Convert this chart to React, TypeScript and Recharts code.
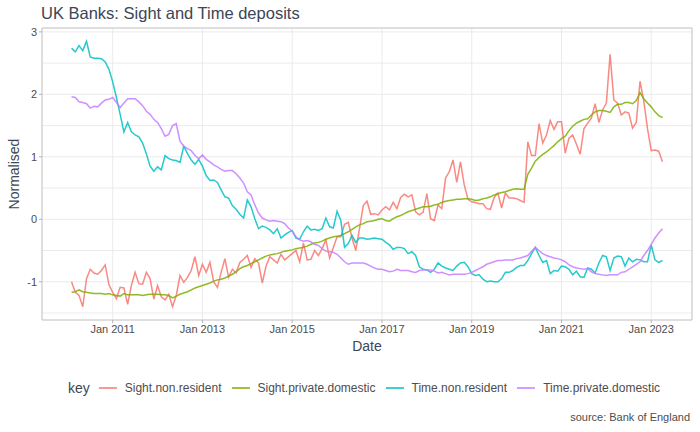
import { LineChart, Line, XAxis, YAxis, CartesianGrid, ReferenceArea } from "recharts";

// monthly observations, Feb 2010 .. Apr 2023
const START_YEAR = 2010;
const START_MONTH = 1; // 0 = Jan

const sightNonResident = [
  -1.0, -1.17, -1.22, -1.4, -0.95, -0.8, -0.86, -0.88, -0.82, -0.73, -1.05, -1.17,
  -1.27, -1.09, -1.1, -1.36, -1.06, -0.85, -1.03, -1.04, -0.85, -0.95, -1.28, -1.06,
  -1.24, -1.29, -1.2, -1.4, -1.22, -0.9, -1.01, -0.93, -0.82, -0.6, -0.9, -0.72,
  -0.85, -0.69, -1.0, -1.09, -0.85, -0.63, -0.93, -0.8, -0.86, -0.69, -0.64, -0.58,
  -0.77, -0.63, -0.7, -1.02, -0.75, -0.6, -0.65, -0.7, -0.56, -0.65, -0.6, -0.55,
  -0.5, -0.68, -0.38, -0.65, -0.64, -0.5, -0.58, -0.47, -0.33, -0.62, -0.45, -0.28,
  -0.28, -0.08, -0.05, -0.3, -0.5, -0.15, 0.22, 0.29, 0.08, 0.09, 0.07, 0.15,
  0.2, 0.15, 0.27, 0.17, 0.35, 0.4, 0.36, 0.39, 0.12, 0.07, 0.11, 0.41,
  0.01, -0.02, 0.23, 0.17, 0.66, 0.76, 0.95, 0.59, 0.92, 0.55, 0.32, 0.28,
  0.27, 0.25, 0.25, 0.17, 0.16, 0.35, 0.42, 0.18, 0.42, 0.34, 0.34, 0.33,
  0.3, 0.27, 1.24, 1.02, 1.02, 1.53, 1.22, 1.35, 1.58, 1.44, 1.56, 1.56,
  1.06, 1.3, 1.35, 1.2, 1.04, 1.45, 1.54, 1.62, 1.85, 1.55, 1.75, 1.86,
  2.64, 1.91, 1.86, 1.67, 1.72, 1.7, 1.46, 1.55, 2.21, 1.9, 1.45, 1.1,
  1.11, 1.09, 0.92,
];

const sightPrivateDomestic = [
  -1.17, -1.16, -1.13, -1.16, -1.17, -1.18, -1.19, -1.19, -1.19, -1.2, -1.19, -1.21,
  -1.22, -1.23, -1.19, -1.21, -1.21, -1.21, -1.21, -1.22, -1.21, -1.2, -1.2, -1.2,
  -1.21, -1.21, -1.22, -1.26, -1.23, -1.2, -1.18, -1.16, -1.13, -1.1, -1.08, -1.06,
  -1.04, -1.02, -0.99, -0.97, -0.96, -0.94, -0.91, -0.88, -0.84, -0.79, -0.76, -0.74,
  -0.71, -0.68, -0.65, -0.62, -0.59, -0.57, -0.56, -0.55, -0.53, -0.51, -0.5, -0.49,
  -0.47, -0.46, -0.45, -0.43, -0.4, -0.38, -0.37, -0.35, -0.32, -0.3, -0.28, -0.27,
  -0.26, -0.23, -0.2, -0.16, -0.12, -0.09, -0.07, -0.04, -0.03, -0.02, 0.0, 0.01,
  -0.02, -0.03, 0.01, 0.04, 0.06, 0.09, 0.12, 0.14, 0.16, 0.18, 0.2, 0.2,
  0.21, 0.23, 0.24, 0.27, 0.29, 0.3, 0.31, 0.32, 0.32, 0.33, 0.33, 0.32,
  0.3, 0.31, 0.33, 0.34, 0.36, 0.39, 0.41, 0.43, 0.44, 0.46, 0.48, 0.49,
  0.48, 0.48, 0.72, 0.82, 0.93, 0.99, 1.04, 1.08, 1.13, 1.18, 1.24, 1.29,
  1.33, 1.42, 1.49, 1.54, 1.57, 1.6, 1.61, 1.67, 1.72, 1.74, 1.74, 1.73,
  1.71, 1.8, 1.84, 1.84, 1.87, 1.87, 1.85, 1.9, 2.03, 1.93, 1.86, 1.8,
  1.72, 1.66, 1.63,
];

const timeNonResident = [
  2.74, 2.68, 2.78, 2.7, 2.85, 2.6, 2.58, 2.58, 2.57, 2.52, 2.4, 2.2,
  1.95, 1.68, 1.4, 1.55, 1.4, 1.35, 1.32, 1.22, 1.05, 0.85, 0.77, 0.84,
  0.79, 1.02, 0.97, 0.95, 0.94, 0.91, 1.17, 1.05, 0.95, 0.88, 0.96, 0.85,
  0.7, 0.62, 0.63, 0.59, 0.47, 0.36, 0.34, 0.22, 0.16, 0.08, 0.02, 0.31,
  0.2, 0.01, -0.15, -0.11, -0.13, -0.17, -0.23, -0.15, -0.3, -0.25, -0.21, -0.18,
  -0.3, -0.32, -0.2, -0.11, -0.17, -0.16, -0.18, -0.15, 0.02, -0.12, -0.14, 0.13,
  -0.02, -0.45, -0.39, -0.26, -0.37, -0.3, -0.3, -0.32, -0.31, -0.3, -0.31, -0.32,
  -0.37, -0.41, -0.48, -0.45, -0.45, -0.47, -0.55, -0.52, -0.58, -0.76, -0.8, -0.81,
  -0.85, -0.8, -0.7, -0.75, -0.78, -0.8, -0.82, -0.75, -0.7, -0.69, -0.76, -0.87,
  -0.9, -0.89, -0.96, -1.0, -0.99, -1.0, -1.0, -0.95, -0.85, -0.85, -0.82, -0.77,
  -0.74, -0.74, -0.66, -0.55, -0.45, -0.58, -0.69, -0.66, -0.87, -0.82, -0.83, -0.75,
  -0.76, -0.8, -0.89, -0.83, -0.92, -0.93, -0.78, -0.8, -0.86, -0.7, -0.58, -0.6,
  -0.82, -0.62, -0.59, -0.6, -0.75, -0.62, -0.68, -0.64, -0.65, -0.68, -0.68, -0.41,
  -0.65, -0.69, -0.66,
];

const timePrivateDomestic = [
  1.96, 1.95, 1.88, 1.87, 1.85, 1.78, 1.81, 1.8, 1.86, 1.91, 1.92, 1.95,
  1.87, 1.79, 1.86, 1.93, 1.93, 1.93, 1.88, 1.82, 1.73, 1.68, 1.6, 1.55,
  1.45, 1.33, 1.36, 1.5, 1.53, 1.25, 1.17, 1.13, 1.1, 1.02, 0.97, 1.03,
  0.96, 0.92, 0.87, 0.84, 0.8, 0.77, 0.78, 0.78, 0.73, 0.66, 0.58, 0.44,
  0.39, 0.23, 0.1, 0.02, -0.01, -0.03, -0.02, -0.03, -0.04, -0.07, -0.14, -0.19,
  -0.28, -0.33, -0.35, -0.34, -0.36, -0.4, -0.42, -0.47, -0.51, -0.52, -0.53, -0.56,
  -0.62, -0.68, -0.72, -0.7, -0.7, -0.7, -0.7, -0.72, -0.75, -0.78, -0.8, -0.8,
  -0.82, -0.84, -0.83, -0.8, -0.82, -0.82, -0.82, -0.84, -0.85, -0.82, -0.81, -0.81,
  -0.81, -0.83, -0.86, -0.85, -0.87, -0.89, -0.88, -0.88, -0.88, -0.88, -0.87, -0.85,
  -0.82, -0.79, -0.76, -0.72, -0.7, -0.68, -0.66, -0.66, -0.65, -0.65, -0.65, -0.63,
  -0.62, -0.6, -0.58, -0.51, -0.45, -0.5, -0.55, -0.58, -0.6, -0.62, -0.63, -0.65,
  -0.68, -0.73, -0.76, -0.78, -0.79, -0.8, -0.79, -0.84, -0.87, -0.88, -0.89, -0.9,
  -0.89, -0.89, -0.89, -0.85, -0.84, -0.8, -0.76, -0.72, -0.68, -0.58, -0.5, -0.4,
  -0.3, -0.22, -0.15,
];

const SERIES = [
  { key: "Sight.non.resident", values: sightNonResident, color: "#F8766D" },
  { key: "Sight.private.domestic", values: sightPrivateDomestic, color: "#7CAE00" },
  { key: "Time.non.resident", values: timeNonResident, color: "#00BFC4" },
  { key: "Time.private.domestic", values: timePrivateDomestic, color: "#C77CFF" },
];

const X_TICKS = [2011, 2013, 2015, 2017, 2019, 2021, 2023];
// major (labelled) + minor gridlines
const Y_TICKS = [-1.5, -1, -0.5, 0, 0.5, 1, 1.5, 2, 2.5, 3];

const FONT = '"Liberation Sans", Arial, Helvetica, sans-serif';
const TITLE_COL = "#3b4656";
const TEXT_COL = "#4d4d4d";
const TICK_SIZE = 3;
const TICK_MARGIN = 2;

const data = sightNonResident.map((_, i) => {
  const row: Record<string, number> = { t: START_YEAR + (START_MONTH + i) / 12 };
  SERIES.forEach((s) => (row[s.key] = s.values[i]));
  return row;
});

// ggplot style 5% expansion
function expand(lo: number, hi: number): [number, number] {
  const pad = (hi - lo) * 0.05;
  return [lo - pad, hi + pad];
}
const allVals = SERIES.flatMap((s) => s.values);
const yDomain = expand(Math.min(...allVals), Math.max(...allVals));
const xDomain = expand(data[0].t, data[data.length - 1].t);

// only label whole numbers; the half steps are minor gridlines
function YTick(props: any) {
  const { x, y, payload } = props;
  if (!Number.isInteger(payload.value)) return null;
  return (
    <g>
      <line x1={x + TICK_MARGIN} x2={x + TICK_MARGIN + TICK_SIZE} y1={y} y2={y} stroke="#b3b3b3" />
      <text x={x} y={y} dy="0.35em" textAnchor="end" fill={TEXT_COL} fontSize={11} fontFamily={FONT}>
        {payload.value}
      </text>
    </g>
  );
}

export default function App() {
  return (
    <div style={{ position: "relative", width: 700, height: 432, fontFamily: FONT, background: "#fff" }}>
      <style>{"body{margin:0}"}</style>
      <div style={{ position: "absolute", left: 41, top: 4, fontSize: 16.5, color: TITLE_COL }}>
        UK Banks: Sight and Time deposits
      </div>
      <LineChart
        width={700}
        height={432}
        data={data}
        margin={{ top: 28, right: 8, bottom: 82, left: 12 }}
      >
        <CartesianGrid stroke="#e6e6e6" strokeWidth={0.8} />
        <XAxis
          type="number"
          dataKey="t"
          domain={xDomain}
          ticks={X_TICKS}
          allowDataOverflow
          tickFormatter={(v: number) => `Jan ${v}`}
          axisLine={false}
          tickLine={{ stroke: "#b3b3b3" }}
          tickSize={TICK_SIZE}
          tickMargin={TICK_MARGIN}
          height={30}
          tick={{ fill: TEXT_COL, fontSize: 11, fontFamily: FONT }}
        />
        <YAxis
          type="number"
          domain={yDomain}
          ticks={Y_TICKS}
          allowDataOverflow
          axisLine={false}
          tickLine={false}
          tickSize={TICK_SIZE}
          tickMargin={TICK_MARGIN}
          width={30}
          tick={<YTick />}
        />
        <ReferenceArea
          x1={xDomain[0]}
          x2={xDomain[1]}
          y1={yDomain[0]}
          y2={yDomain[1]}
          fill="none"
          stroke="#c8c8c8"
          strokeWidth={1}
          ifOverflow="visible"
        />
        {SERIES.map((s) => (
          <Line
            key={s.key}
            type="linear"
            dataKey={s.key}
            stroke={s.color}
            strokeOpacity={0.85}
            strokeWidth={1.5}
            dot={false}
            isAnimationActive={false}
          />
        ))}
      </LineChart>
      <div
        style={{
          position: "absolute",
          left: 14,
          top: 174,
          transform: "translate(-50%, -50%) rotate(-90deg)",
          fontSize: 14,
          color: TITLE_COL,
          whiteSpace: "nowrap",
        }}
      >
        Normalised
      </div>
      <div style={{ position: "absolute", left: 367, top: 346, transform: "translate(-50%, -50%)", fontSize: 14, color: TITLE_COL }}>
        Date
      </div>
      <div
        style={{
          position: "absolute",
          left: 369,
          top: 388,
          transform: "translate(-50%, -50%)",
          display: "flex",
          alignItems: "center",
          whiteSpace: "nowrap",
        }}
      >
        <span style={{ fontSize: 14, color: TITLE_COL, marginRight: 9 }}>key</span>
        {SERIES.map((s) => (
          <span key={s.key} style={{ display: "flex", alignItems: "center", marginRight: 10 }}>
            <span style={{ display: "inline-block", width: 18, height: 2, background: s.color, opacity: 0.75, marginRight: 8 }} />
            <span style={{ fontSize: 12, color: TEXT_COL }}>{s.key}</span>
          </span>
        ))}
      </div>
      <div style={{ position: "absolute", right: 10, top: 411, fontSize: 11, color: TEXT_COL }}>
        source: Bank of England
      </div>
    </div>
  );
}
